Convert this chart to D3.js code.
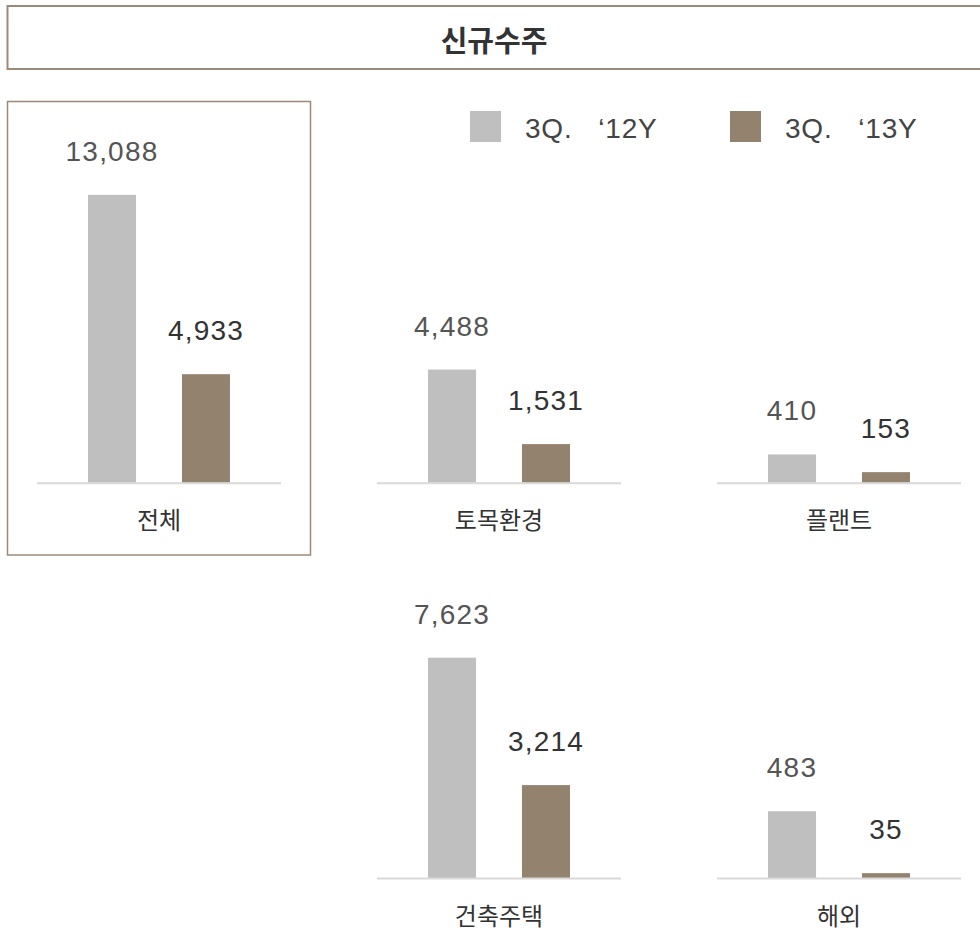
<!DOCTYPE html>
<html>
<head>
<meta charset="utf-8">
<script src="https://cdn.jsdelivr.net/npm/d3@7"></script>
<style>
  html, body { margin: 0; padding: 0; background: #fff; }
  svg { display: block; }
</style>
</head>
<body>
<div id="chart"></div>
<script>
// ---- data ----
const title = "신규수주";
const categories = ["전체", "토목환경", "플랜트", "건축주택", "해외"];
const seriesNames = ["3Q.   \u201812Y", "3Q.   \u201813Y"];
const values2012 = [13088, 4488, 410, 7623, 483];
const values2013 = [4933, 1531, 153, 3214, 35];
// per-panel value-axis maxima (each small chart has its own scale)
const scaleMax = [13640, 11900, 4350, 10380, 2170];

// ---- layout ----
const W = 980, H = 930;
const colors = ["#bfbfbf", "#93826d"];
const labelColors = ["#555555", "#333333"];
const panelW = 244, barRange = 300;
const panels = [
  { x: 37, y: 482.7 },
  { x: 377, y: 482.7 },
  { x: 717, y: 482.7 },
  { x: 377, y: 878 },
  { x: 717, y: 878 }
];
const fmt = d3.format(",");

const svg = d3.select("#chart").append("svg")
  .attr("width", W).attr("height", H);

// title box
svg.append("rect")
  .attr("x", 7.5).attr("y", 6).attr("width", 990).attr("height", 63)
  .attr("fill", "none").attr("stroke", "#9a8b78").attr("stroke-width", 2);
svg.append("text")
  .attr("x", 494).attr("y", 52)
  .attr("text-anchor", "middle")
  .attr("font-family", "'Noto Sans CJK KR', 'Noto Sans', sans-serif")
  .attr("font-weight", "bold").attr("font-size", 29)
  .attr("fill", "#333").text(title);

// highlight box around the total panel
svg.append("rect")
  .attr("x", 7.5).attr("y", 101.5).attr("width", 303).attr("height", 453.5)
  .attr("fill", "none").attr("stroke", "#9a8b78").attr("stroke-width", 1.5);

// legend
const legendX = [470, 730];
seriesNames.forEach((name, i) => {
  const g = svg.append("g").attr("transform", `translate(${legendX[i]},111)`);
  g.append("rect").attr("width", 31).attr("height", 31).attr("fill", colors[i]);
  g.append("text")
    .attr("x", 55).attr("y", 26.5)
    .attr("font-family", "'Liberation Sans', Arial, sans-serif")
    .attr("font-size", 28).attr("fill", "#444")
    .attr("letter-spacing", 0.8)
    .style("white-space", "pre")
    .text(name);
});

const x = d3.scaleBand()
  .domain([0, 1])
  .range([0, panelW])
  .paddingInner(0.489)
  .paddingOuter(0.543);

categories.forEach((cat, i) => {
  const p = panels[i];
  const y = d3.scaleLinear().domain([0, scaleMax[i]]).range([0, -barRange]);
  const g = svg.append("g").attr("transform", `translate(${p.x},${p.y})`);
  const vals = [values2012[i], values2013[i]];

  g.selectAll("rect.bar").data(vals).enter().append("rect")
    .attr("class", "bar")
    .attr("x", (d, j) => x(j))
    .attr("width", x.bandwidth())
    .attr("y", d => y(d))
    .attr("height", d => -y(d))
    .attr("fill", (d, j) => colors[j]);

  // baseline
  g.append("line")
    .attr("x1", 0).attr("x2", panelW)
    .attr("y1", 0.5).attr("y2", 0.5)
    .attr("stroke", "#d9d9d9").attr("stroke-width", 2);

  g.selectAll("text.val").data(vals).enter().append("text")
    .attr("class", "val")
    .attr("x", (d, j) => x(j) + x.bandwidth() / 2)
    .attr("y", d => y(d) - 34)
    .attr("text-anchor", "middle")
    .attr("font-family", "'Liberation Sans', Arial, sans-serif")
    .attr("font-size", 28)
    .attr("letter-spacing", 1.2)
    .attr("fill", (d, j) => labelColors[j])
    .text(d => fmt(d));

  g.append("text")
    .attr("x", panelW / 2).attr("y", 46.5)
    .attr("text-anchor", "middle")
    .attr("font-family", "'Noto Sans CJK KR', 'Noto Sans', sans-serif")
    .attr("font-size", 24).attr("fill", "#333")
    .text(cat);
});
</script>
</body>
</html>
